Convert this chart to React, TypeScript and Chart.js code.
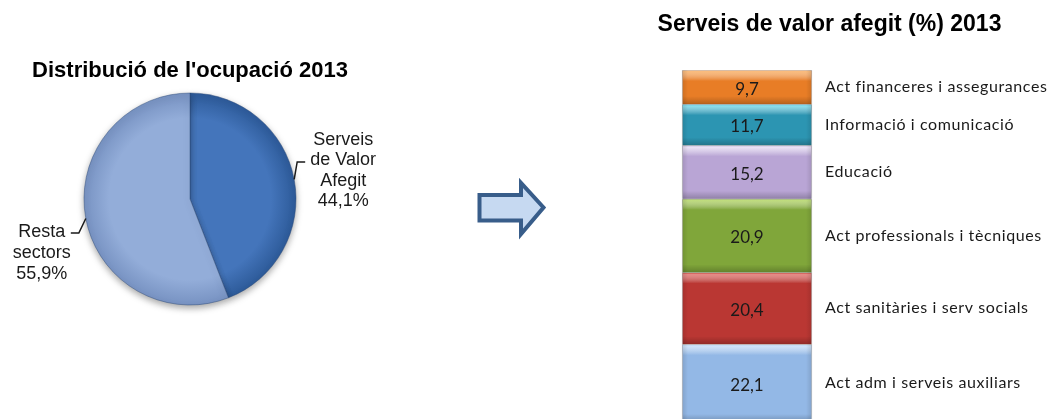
import React, { useEffect, useRef } from "react";
import { Chart, registerables } from "chart.js";

Chart.register(...registerables);

// ---------- Data ----------
const pieTitle = "Distribució de l'ocupació 2013";
const pieCategories = ["Serveis de Valor Afegit", "Resta sectors"];
const pieValues = [44.1, 55.9];
const pieLabelLines = [
  ["Serveis", "de Valor", "Afegit"],
  ["Resta", "sectors"],
];

const barTitle = "Serveis de valor afegit (%) 2013";
const barCategories = [
  "Act adm i serveis auxiliars",
  "Act sanitàries i serv socials",
  "Act professionals i tècniques",
  "Educació",
  "Informació i comunicació",
  "Act financeres i assegurances",
];
const barValues = [22.1, 20.4, 20.9, 15.2, 11.7, 9.7];

// ---------- Styles ----------
const pieColors = [
  ["#4475bb", "#2b5896"],
  ["#93add9", "#7590c0"],
];
const barColors = ["#93b8e6", "#ba3733", "#80a63a", "#b9a5d5", "#2c95b2", "#e87d26"];
const barHighlights = ["#d4e9fd", "#ec8580", "#c0e074", "#f3ecfb", "#8ae9f7", "#fbbc78"];

const fmt = (v: number) => v.toFixed(1).replace(".", ",");

const pieShadowPlugin = {
  id: "pieShadow",
  beforeDatasetsDraw(chart: any) {
    const ctx = chart.ctx;
    ctx.save();
    ctx.shadowColor = "rgba(0,0,0,0.35)";
    ctx.shadowBlur = 7;
    ctx.shadowOffsetY = 3;
  },
  afterDatasetsDraw(chart: any) {
    chart.ctx.restore();
  },
};

const pieLabelPlugin = {
  id: "pieLabels",
  afterDatasetsDraw(chart: any) {
    const ctx = chart.ctx;
    const meta = chart.getDatasetMeta(0);
    const values = chart.data.datasets[0].data as number[];
    meta.data.forEach((arc: any, i: number) => {
      const { x, y, startAngle, endAngle, outerRadius } = arc.getProps(
        ["x", "y", "startAngle", "endAngle", "outerRadius"],
        true
      );
      const mid = (startAngle + endAngle) / 2;
      const px = x + Math.cos(mid) * outerRadius;
      const py = y + Math.sin(mid) * outerRadius;
      const right = Math.cos(mid) >= 0;
      const lines = [...pieLabelLines[i], fmt(values[i]) + "%"];
      ctx.save();
      ctx.strokeStyle = "#1a1a1a";
      ctx.lineWidth = 1.5;
      ctx.fillStyle = "#1a1a1a";
      ctx.font = '18px "Liberation Sans", Arial, sans-serif';
      ctx.textAlign = "center";
      ctx.textBaseline = "alphabetic";
      if (right) {
        const ex = px + 3, ey = py - 17.5;
        ctx.beginPath();
        ctx.moveTo(px, py);
        ctx.lineTo(ex, ey);
        ctx.lineTo(ex + 8, ey);
        ctx.stroke();
        const cx = ex + 46;
        lines.forEach((t, k) => ctx.fillText(t, cx, ey - 17 + k * 20.5));
      } else {
        const ex = px - 7, ey = py + 14.5;
        ctx.beginPath();
        ctx.moveTo(px, py);
        ctx.lineTo(ex, ey);
        ctx.lineTo(ex - 8, ey);
        ctx.stroke();
        const cx = ex - 37;
        lines.forEach((t, k) => ctx.fillText(t, cx, ey + 4 + k * 21));
      }
      ctx.restore();
    });
  },
};

const barDecorPlugin = {
  id: "barDecor",
  afterDatasetsDraw(chart: any) {
    const ctx = chart.ctx;
    chart.data.datasets.forEach((ds: any, i: number) => {
      const el = chart.getDatasetMeta(i).data[0];
      if (!el) return;
      const { x, y, base, width } = el.getProps(["x", "y", "base", "width"], true);
      const top = Math.min(y, base);
      const bottom = Math.max(y, base);
      const left = x - width / 2;
      const rightX = x + width / 2;
      ctx.save();
      // top highlight
      let g = ctx.createLinearGradient(0, top, 0, top + 11);
      g.addColorStop(0, barHighlights[i]);
      g.addColorStop(1, "rgba(255,255,255,0)");
      ctx.fillStyle = g;
      ctx.fillRect(left + 1, top + 1, width - 2, 11);
      // bottom shade
      g = ctx.createLinearGradient(0, bottom - 8, 0, bottom);
      g.addColorStop(0, "rgba(0,0,0,0)");
      g.addColorStop(1, "rgba(0,0,0,0.22)");
      ctx.fillStyle = g;
      ctx.fillRect(left + 1, bottom - 8, width - 2, 8);
      // side shading
      g = ctx.createLinearGradient(left, 0, left + 6, 0);
      g.addColorStop(0, "rgba(0,0,0,0.12)");
      g.addColorStop(1, "rgba(0,0,0,0)");
      ctx.fillStyle = g;
      ctx.fillRect(left, top, 6, bottom - top);
      g = ctx.createLinearGradient(rightX - 6, 0, rightX, 0);
      g.addColorStop(0, "rgba(0,0,0,0)");
      g.addColorStop(1, "rgba(0,0,0,0.12)");
      ctx.fillStyle = g;
      ctx.fillRect(rightX - 6, top, 6, bottom - top);

      const mid = (top + bottom) / 2;
      ctx.fillStyle = "#1a1a1a";
      ctx.font = '17px Lato, "Open Sans", sans-serif';
      ctx.textBaseline = "middle";
      ctx.textAlign = "center";
      ctx.fillText(fmt(ds.data[0].y), x, mid + 2);
      ctx.textAlign = "left";
      ctx.font = '16px Lato, "Open Sans", sans-serif';
      (ctx as any).letterSpacing = "0.6px";
      ctx.fillText(ds.label, rightX + 13, mid);
      ctx.restore();
    });
  },
};

export default function App() {
  const pieRef = useRef<HTMLCanvasElement | null>(null);
  const barRef = useRef<HTMLCanvasElement | null>(null);

  useEffect(() => {
    if (!pieRef.current || !barRef.current) return;

    const pie = new Chart(pieRef.current, {
      type: "pie",
      data: {
        labels: pieCategories,
        datasets: [
          {
            data: pieValues,
            radius: 106,
            borderWidth: 1,
            borderColor: "rgba(40,70,120,0.45)",
            backgroundColor: (c: any) => {
              const chart = c.chart;
              const a = chart.chartArea;
              const cols = pieColors[c.dataIndex] || pieColors[0];
              if (!a) return cols[0];
              const cx = (a.left + a.right) / 2;
              const cy = (a.top + a.bottom) / 2;
              const g = chart.ctx.createRadialGradient(cx, cy, 0, cx, cy, 108);
              g.addColorStop(0, cols[0]);
              g.addColorStop(0.75, cols[0]);
              g.addColorStop(1, cols[1]);
              return g;
            },
          } as any,
        ],
      },
      options: {
        animation: false,
        responsive: false,
        events: [],
        layout: { padding: { left: 0, right: 20, top: 0, bottom: 111.5 } },
        plugins: {
          legend: { display: false },
          tooltip: { enabled: false },
          title: {
            display: true,
            text: pieTitle,
            color: "#000",
            font: { family: '"Liberation Sans", Arial, sans-serif', size: 22, weight: "bold" },
            padding: { top: 58, bottom: 6.1 },
          },
        },
      },
      plugins: [pieShadowPlugin, pieLabelPlugin],
    });

    const bar = new Chart(barRef.current, {
      type: "bar",
      data: {
        datasets: barCategories.map((label, i) => ({
          label,
          data: [{ x: 0, y: barValues[i] }],
          backgroundColor: barColors[i],
          borderColor: "rgba(0,0,0,0.18)",
          borderWidth: 1,
          barThickness: 130,
        })),
      },
      options: {
        animation: false,
        responsive: false,
        events: [],
        layout: { padding: { left: 0, right: 0, top: 0, bottom: 1 } },
        scales: {
          x: { type: "linear", min: -147, max: 312, stacked: true, offset: false, display: false },
          y: { min: 0, max: 100, stacked: true, display: false },
        },
        plugins: {
          legend: { display: false },
          tooltip: { enabled: false },
          title: {
            display: true,
            text: barTitle,
            color: "#000",
            font: { family: '"Liberation Sans", Arial, sans-serif', size: 23, weight: "bold" },
            padding: { top: 11, bottom: 31.4 },
          },
        },
      },
      plugins: [barDecorPlugin],
    });

    return () => {
      pie.destroy();
      bar.destroy();
    };
  }, []);

  return (
    <div
      style={{
        position: "fixed",
        left: 0,
        top: 0,
        width: 1059,
        height: 419,
        overflow: "hidden",
        background: "#ffffff",
      }}
    >
      <div style={{ position: "absolute", left: 0, top: 0, width: 400, height: 419 }}>
        <canvas ref={pieRef} width={400} height={419} style={{ width: 400, height: 419 }} />
      </div>
      <svg
        style={{ position: "absolute", left: 0, top: 0 }}
        width={1059}
        height={419}
        viewBox="0 0 1059 419"
      >
        <polygon
          points="479.5,195 521,195 521,183 543.5,207.5 521,234 521,220.5 479.5,220.5"
          fill="#c6d9f1"
          stroke="#385d8a"
          strokeWidth={4}
          strokeLinejoin="miter"
        />
      </svg>
      <div style={{ position: "absolute", left: 600, top: 0, width: 459, height: 423 }}>
        <canvas ref={barRef} width={459} height={423} style={{ width: 459, height: 423 }} />
      </div>
    </div>
  );
}
